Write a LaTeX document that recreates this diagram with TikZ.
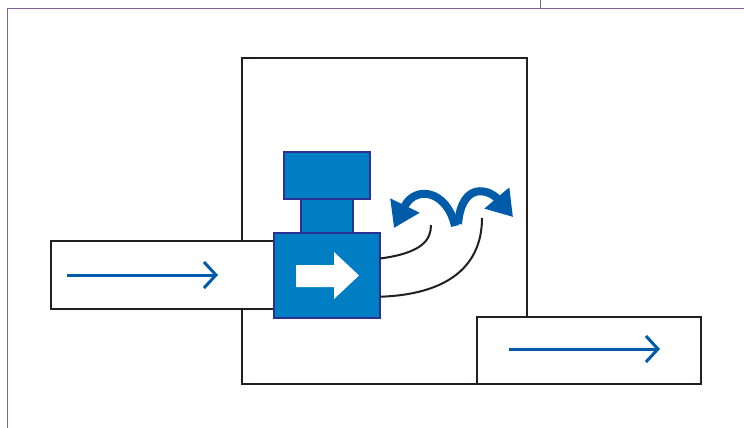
\documentclass[tikz,border=0pt]{standalone}
\usepackage{tikz}
\usetikzlibrary{arrows.meta, positioning, calc}
\definecolor{wallcol}{RGB}{35,31,32}
\definecolor{metercol}{RGB}{0,126,196}
\definecolor{meteredge}{RGB}{46,49,146}
\definecolor{flowcol}{RGB}{0,92,169}
\definecolor{framecol}{RGB}{128,98,152}

\begin{document}
\begin{tikzpicture}[x=1pt, y=-1pt,
    wallbox/.style={draw=wallcol, line width=2.4pt, inner sep=0pt, outer sep=0pt},
    pipebox/.style={wallbox, fill=white},
    meterpart/.style={draw=meteredge, fill=metercol, line width=1.6pt,
                      inner sep=0pt, outer sep=0pt},
    flowarrow/.style={draw=flowcol, line width=3pt,
                      -{Straight Barb[length=12pt, width=26pt]}},
    leakarrow/.style={draw=flowcol, line width=8pt,
                      -{Triangle[length=25pt, width=31pt]}},
    leakline/.style={draw=wallcol, line width=2pt}]
  \useasboundingbox (0,0) rectangle (744,428);

  % page frame
  \draw[framecol, line width=1pt] (7,428) -- (7,9) -- (744,9);
  \draw[framecol, line width=1pt] (540,0) -- (540,9);

  % building and the two pipes through it
  \node[wallbox, minimum width=285, minimum height=326] (room) at (384.5,221) {};
  \node[pipebox, minimum width=229, minimum height=68] (inpipe) at (165.5,275) {};
  \node[pipebox, minimum width=224, minimum height=67] (outpipe) at (589,350.5) {};

  % flow direction in the pipes
  \coordinate (in0) at (67,275);
  \coordinate (in1) at (218,275);
  \coordinate (out0) at (509,349);
  \coordinate (out1) at (660,349);
  \draw[flowarrow] (in0) -- (in1);
  \draw[flowarrow] (out0) -- (out1);

  % meter: body, neck and head
  \node[meterpart, minimum width=106, minimum height=85] (body) at (327,275.5) {};
  \node[meterpart, minimum width=52, minimum height=34] (neck) at (327,216) {};
  \node[meterpart, minimum width=86, minimum height=47] (head) at (327,175.5) {};
  \fill[white] (296,265) -- (334,265) -- (334,252) -- (359,275.5)
    -- (334,299) -- (334,287) -- (296,287) -- cycle;

  % leaks out of the meter
  \coordinate (leak1) at (431,225);
  \coordinate (leak2) at (482,218);
  \draw[leakline] ($(body.north east)!0.3!(body.south east)$)
    .. controls (422,253) and (431,240) .. (leak1);
  \draw[leakline] ($(body.north east)!0.75!(body.south east)$)
    .. controls (458,294) and (482,258) .. (leak2);
  \draw[leakarrow] (455,226) .. controls (447,190) and (415,185) .. (394,228);
  \draw[leakarrow] (458,224) .. controls (462,180) and (490,190) .. (513,217);
\end{tikzpicture}
\end{document}
